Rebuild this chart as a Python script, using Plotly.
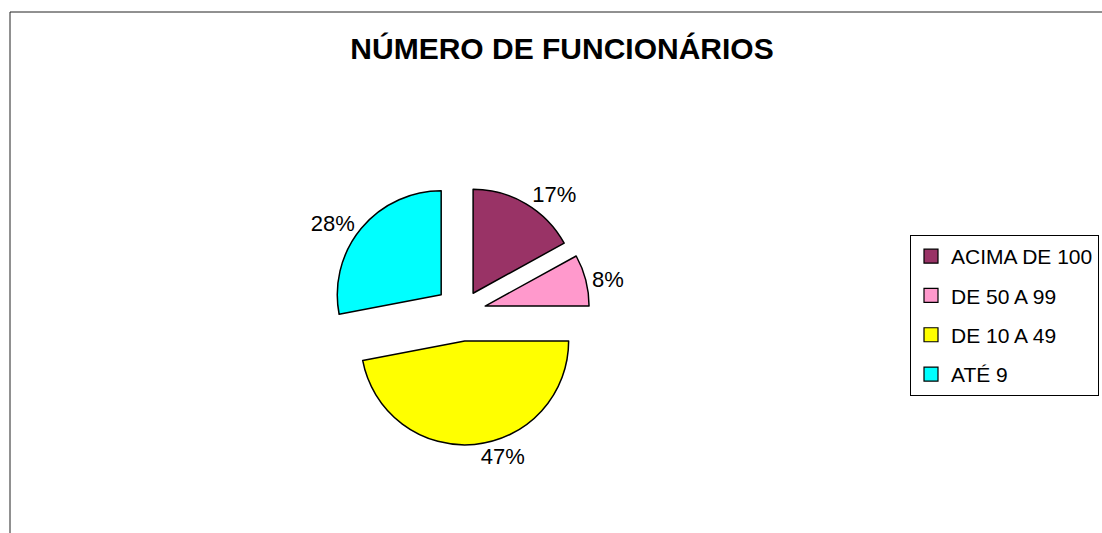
import plotly.graph_objects as go

categories = ["ACIMA DE 100", "DE 50 A 99", "DE 10 A 49", "ATÉ 9"]
values = [17, 8, 47, 28]
colors = ["#993366", "#FF99CC", "#FFFF00", "#00FFFF"]
pulls = [0.21, 0.23, 0.28, 0.26]

W, H = 1102, 533
cx, cy, half = 462, 312, 133
FONT = "Liberation Sans, Arial, Helvetica"

fig = go.Figure()
fig.add_trace(go.Pie(
    labels=categories,
    values=values,
    sort=False,
    direction="clockwise",
    rotation=0,
    pull=pulls,
    marker=dict(colors=colors, line=dict(color="black", width=1.5)),
    textinfo="percent",
    textposition="outside",
    texttemplate="%{percent:.0%}",
    textfont=dict(family=FONT, size=22, color="black"),
    domain=dict(x=[(cx - half) / W, (cx + half) / W],
                y=[1 - (cy + half) / H, 1 - (cy - half) / H]),
    hoverinfo="label+percent",
    showlegend=False,
))

# legend entries (one per category, so the gap between them can be set)
for i, (name, col) in enumerate(zip(categories, colors)):
    fig.add_trace(go.Scatter(
        x=[None], y=[None], mode="markers", name=name,
        legendgroup=f"g{i}",
        marker=dict(symbol="square", size=14, color=col,
                    line=dict(color="black", width=1.2)),
        hoverinfo="skip",
    ))

fig.update_layout(
    width=W, height=H,
    margin=dict(l=0, r=0, t=0, b=0),
    paper_bgcolor="white",
    plot_bgcolor="white",
    font=dict(family=FONT, color="black"),
    xaxis=dict(visible=False),
    yaxis=dict(visible=False),
    title=dict(text="<b>NÚMERO DE FUNCIONÁRIOS</b>", x=562 / W, xanchor="center",
               y=1 - 48 / H, yanchor="middle",
               font=dict(family=FONT, size=30, color="black")),
    legend=dict(x=910 / W, y=1 - 235 / H, xanchor="left", yanchor="top",
                bordercolor="black", borderwidth=1, bgcolor="white",
                font=dict(family=FONT, size=21, color="black"),
                itemwidth=30, tracegroupgap=9, itemsizing="trace"),
    shapes=[dict(type="rect", xref="paper", yref="paper",
                 x0=10 / W, x1=1.02, y0=-0.02, y1=1 - 12 / H,
                 line=dict(color="#222", width=1), fillcolor="rgba(0,0,0,0)",
                 layer="below")],
)

fig.write_html("out.html", config={"displayModeBar": False},
               post_script="document.body.style.margin='0px';")
